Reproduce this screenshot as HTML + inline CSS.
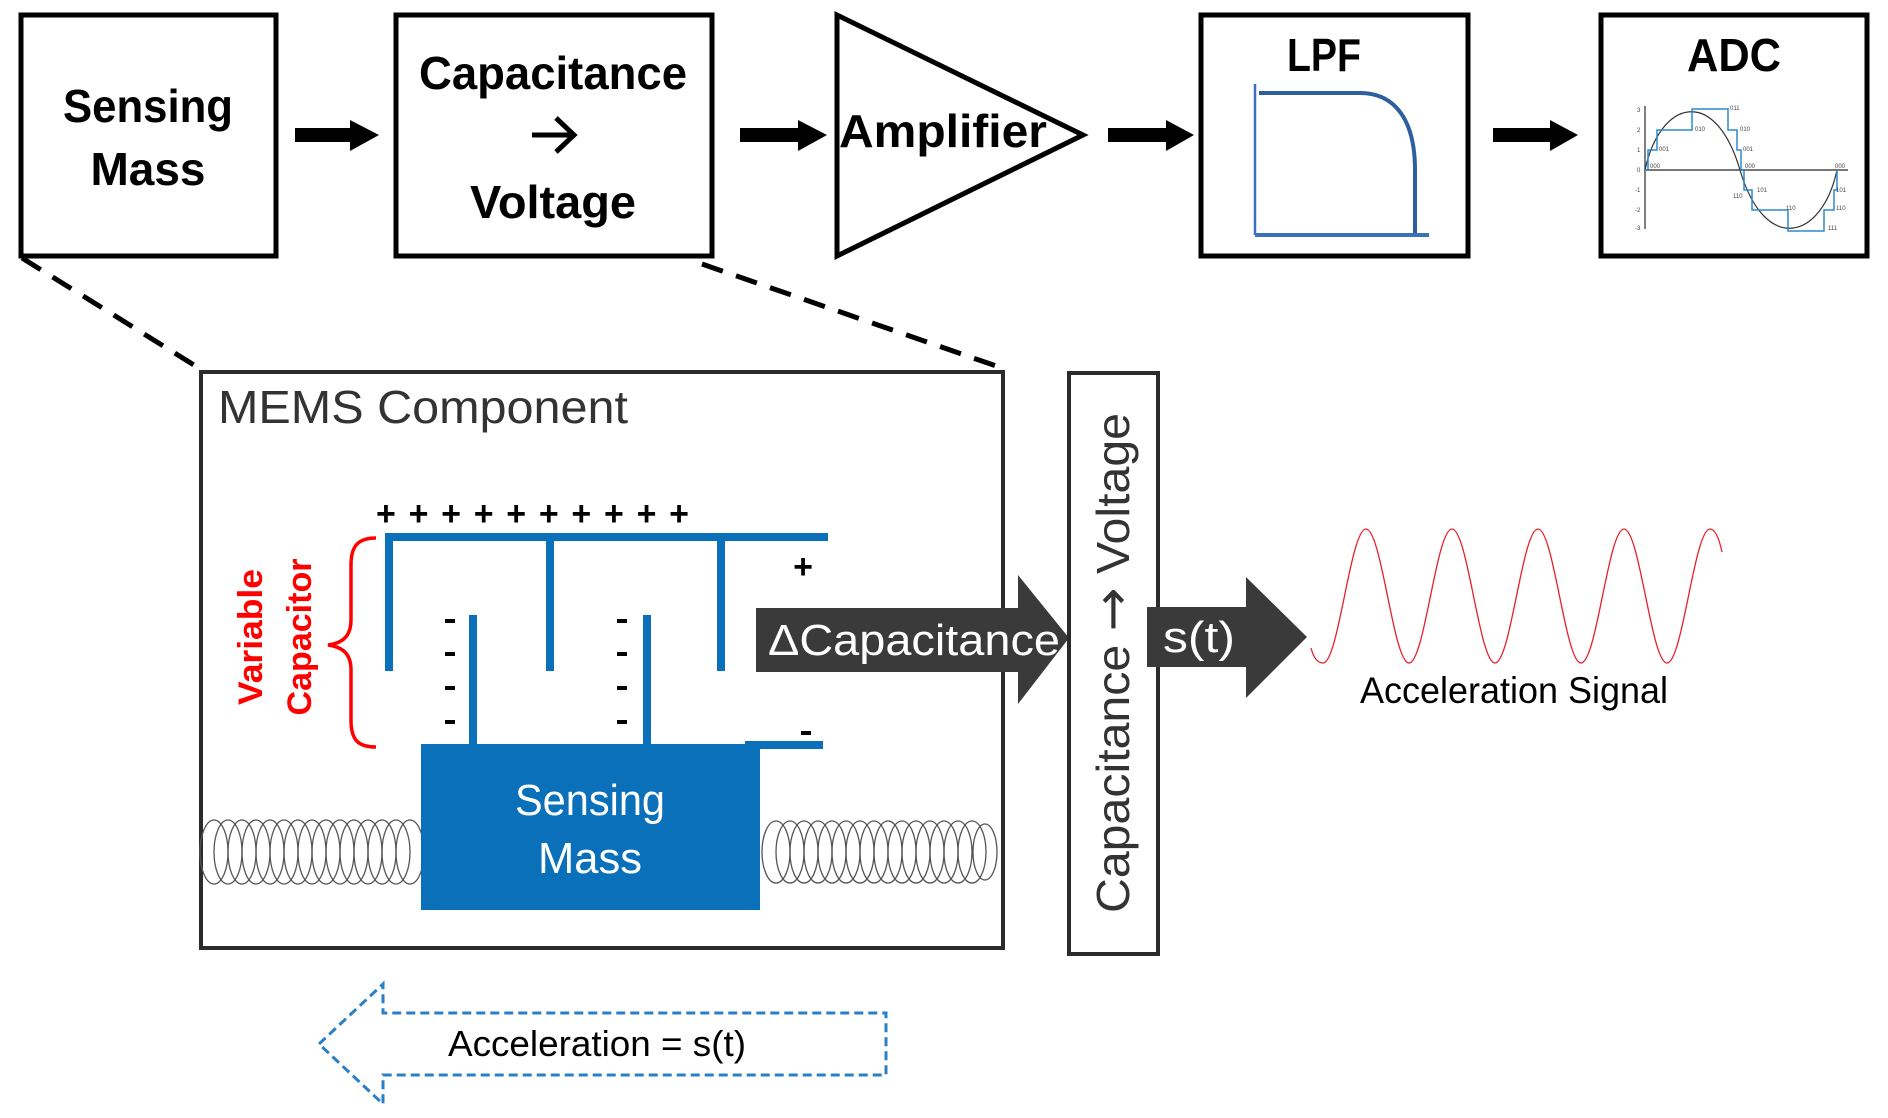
<!DOCTYPE html>
<html><head><meta charset="utf-8"><style>
html,body{margin:0;padding:0;background:#fff;width:1888px;height:1118px;overflow:hidden}
svg{display:block}
</style></head><body>
<svg width="1888" height="1118" viewBox="0 0 1888 1118" xmlns="http://www.w3.org/2000/svg" font-family="Liberation Sans, sans-serif">
<!-- top boxes -->
<g fill="#fff" stroke="#000" stroke-width="5">
<rect x="21" y="15" width="255" height="241"/>
<rect x="396" y="15" width="316" height="241"/>
<polygon points="837,15 837,256 1083,135"/>
<rect x="1201" y="15" width="267" height="241"/>
<rect x="1601" y="15" width="266" height="241"/>
</g>
<g font-weight="bold" font-size="46" text-anchor="middle" fill="#000">
<text x="148" y="122" textLength="170" lengthAdjust="spacingAndGlyphs">Sensing</text>
<text x="148" y="185" textLength="115" lengthAdjust="spacingAndGlyphs">Mass</text>
<text x="553" y="89" textLength="268" lengthAdjust="spacingAndGlyphs">Capacitance</text>
<text x="553" y="218" textLength="166" lengthAdjust="spacingAndGlyphs">Voltage</text>
<text x="943" y="147" textLength="208" lengthAdjust="spacingAndGlyphs">Amplifier</text>
<text x="1324" y="71" textLength="74" lengthAdjust="spacingAndGlyphs">LPF</text>
<text x="1734" y="71" textLength="94" lengthAdjust="spacingAndGlyphs">ADC</text>
</g>
<path d="M532,135 H572 M556,118 L574,135 L556,152" stroke="#000" stroke-width="5" fill="none"/>
<g fill="#000">
<polygon points="295,128 350,128 350,120 379,135 350,151 350,142 295,142"/>
<polygon points="740,128 798,128 798,120 827,135 798,151 798,142 740,142"/>
<polygon points="1108,128 1166,128 1166,120 1194,135 1166,151 1166,142 1108,142"/>
<polygon points="1493,128 1550,128 1550,120 1578,135 1550,151 1550,142 1493,142"/>
</g>
<!-- LPF graph -->
<path d="M1255,84 V235" stroke="#3a70bd" stroke-width="2.5" fill="none"/>
<path d="M1259,93 H1360 C1395,93 1415,120 1415,170 V235" stroke="#2d5f9e" stroke-width="4" fill="none"/>
<path d="M1255,235 H1429" stroke="#3a70bd" stroke-width="4" fill="none"/>
<!-- ADC graph -->
<g font-size="6" fill="#444">
<path d="M1645,106 V229" stroke="#555" stroke-width="1.5"/>
<path d="M1645,170 H1848" stroke="#777" stroke-width="2"/>
<text x="1637" y="112">3</text><text x="1637" y="132">2</text><text x="1637" y="152">1</text><text x="1637" y="172">0</text>
<text x="1635" y="192">-1</text><text x="1635" y="212">-2</text><text x="1635" y="230">-3</text>
<path d="M1645,170 C1660,100 1715,85 1740,170 C1765,255 1822,240 1837,170" stroke="#333" stroke-width="1.2" fill="none"/>
<path d="M1645,170 H1648 V150 H1657 V130 H1692 V109 H1728 V130 H1737 V150 H1741 V170 H1744 V190 H1752 V210 H1788 V231 H1824 V210 H1834 V190 H1837 V170" stroke="#2a8ad0" stroke-width="1.5" fill="none"/>
<text x="1659" y="151">001</text><text x="1695" y="131">010</text><text x="1730" y="110">011</text><text x="1740" y="131">010</text><text x="1743" y="151">001</text><text x="1650" y="168">000</text><text x="1745" y="168">000</text><text x="1835" y="168">000</text>
<text x="1757" y="192">101</text><text x="1733" y="198">110</text><text x="1786" y="210">110</text><text x="1828" y="230">111</text><text x="1836" y="192">101</text><text x="1836" y="210">110</text>
</g>
<g stroke="#000" stroke-width="5" stroke-dasharray="22,14" fill="none">
<path d="M22,258 L202,370"/>
<path d="M702,264 L1002,368"/>
</g>
<rect x="201" y="372" width="802" height="576" fill="none" stroke="#2b2b2b" stroke-width="4"/>
<text x="218" y="423" font-size="46" fill="#333" textLength="410" lengthAdjust="spacingAndGlyphs">MEMS Component</text>
<text x="376" y="525" font-size="34" font-weight="bold" textLength="313" lengthAdjust="spacing">+ + + + + + + + + +</text>
<!-- springs -->
<g fill="none" stroke="#555" stroke-width="1.3">
<ellipse cx="214" cy="852" rx="14" ry="32"/><ellipse cx="228" cy="852" rx="14" ry="32"/><ellipse cx="242" cy="852" rx="14" ry="32"/><ellipse cx="256" cy="852" rx="14" ry="32"/><ellipse cx="270" cy="852" rx="14" ry="32"/><ellipse cx="284" cy="852" rx="14" ry="32"/><ellipse cx="298" cy="852" rx="14" ry="32"/><ellipse cx="312" cy="852" rx="14" ry="32"/><ellipse cx="326" cy="852" rx="14" ry="32"/><ellipse cx="340" cy="852" rx="14" ry="32"/><ellipse cx="354" cy="852" rx="14" ry="32"/><ellipse cx="368" cy="852" rx="14" ry="32"/><ellipse cx="382" cy="852" rx="14" ry="32"/><ellipse cx="396" cy="852" rx="14" ry="32"/><ellipse cx="410" cy="852" rx="14" ry="32"/>
<ellipse cx="776" cy="852" rx="14" ry="31"/><ellipse cx="790" cy="852" rx="14" ry="31"/><ellipse cx="804" cy="852" rx="14" ry="31"/><ellipse cx="818" cy="852" rx="14" ry="31"/><ellipse cx="832" cy="852" rx="14" ry="31"/><ellipse cx="846" cy="852" rx="14" ry="31"/><ellipse cx="860" cy="852" rx="14" ry="31"/><ellipse cx="874" cy="852" rx="14" ry="31"/><ellipse cx="888" cy="852" rx="14" ry="31"/><ellipse cx="902" cy="852" rx="14" ry="31"/><ellipse cx="916" cy="852" rx="14" ry="31"/><ellipse cx="930" cy="852" rx="14" ry="31"/><ellipse cx="944" cy="852" rx="14" ry="31"/><ellipse cx="958" cy="852" rx="14" ry="31"/><ellipse cx="972" cy="852" rx="14" ry="31"/><ellipse cx="985" cy="852" rx="12" ry="28"/>
</g>
<g fill="#0a70ba">
<rect x="385" y="533" width="443" height="8"/>
<rect x="385" y="533" width="8" height="138"/>
<rect x="546" y="533" width="8" height="138"/>
<rect x="717" y="533" width="8" height="138"/>
<rect x="469" y="615" width="8" height="131"/>
<rect x="643" y="615" width="8" height="131"/>
<rect x="421" y="744" width="339" height="166"/>
<rect x="745" y="741" width="78" height="8"/>
</g>
<g font-size="44" fill="#fff" text-anchor="middle">
<text x="590" y="815" textLength="150" lengthAdjust="spacingAndGlyphs">Sensing</text>
<text x="590" y="873" textLength="104" lengthAdjust="spacingAndGlyphs">Mass</text>
</g>
<g fill="#000">
<rect x="445" y="619" width="10" height="4"/><rect x="445" y="652" width="10" height="4"/><rect x="445" y="686" width="10" height="4"/><rect x="445" y="720" width="10" height="4"/>
<rect x="617" y="619" width="10" height="4"/><rect x="617" y="652" width="10" height="4"/><rect x="617" y="686" width="10" height="4"/><rect x="617" y="720" width="10" height="4"/>
<rect x="801" y="731" width="10" height="4"/>
<text x="803" y="578" font-size="34" font-weight="bold" text-anchor="middle">+</text>
</g>
<path d="M376,538 C358,538 351,546 351,565 V620 C351,636 343,643 328,645 C343,647 351,654 351,670 V720 C351,740 358,747 376,747" fill="none" stroke="#f00" stroke-width="3.5"/>
<g font-size="34" font-weight="bold" fill="#f00" text-anchor="middle">
<text transform="translate(262,637) rotate(-90)" textLength="136" lengthAdjust="spacingAndGlyphs">Variable</text>
<text transform="translate(311,637) rotate(-90)" textLength="157" lengthAdjust="spacingAndGlyphs">Capacitor</text>
</g>
<polygon points="756,608 1018,608 1018,575 1069,638 1018,704 1018,672 756,672" fill="#3a3a3a"/>
<text x="768" y="655" font-size="44" fill="#fff" textLength="292" lengthAdjust="spacingAndGlyphs">ΔCapacitance</text>
<rect x="1069" y="373" width="89" height="581" fill="#fff" stroke="#2b2b2b" stroke-width="4"/>
<text transform="translate(1129,663) rotate(-90)" font-size="46" fill="#333" text-anchor="middle" textLength="500" lengthAdjust="spacingAndGlyphs">Capacitance <tspan font-family="DejaVu Sans, sans-serif" font-size="50">→</tspan> Voltage</text>
<polygon points="1147,607 1246,607 1246,577 1307,637 1246,698 1246,667 1147,667" fill="#3a3a3a"/>
<text x="1163" y="652" font-size="44" fill="#fff" textLength="72" lengthAdjust="spacingAndGlyphs">s(t)</text>
<path d="M1311,648 Q1315,663 1323,663 C1338.7,663 1350.3,529 1366,529 C1381.7,529 1393.3,663 1409,663 C1424.7,663 1436.3,529 1452,529 C1467.7,529 1479.3,663 1495,663 C1510.7,663 1522.3,529 1538,529 C1553.7,529 1565.3,663 1581,663 C1596.7,663 1608.3,529 1624,529 C1639.7,529 1651.3,663 1667,663 C1682.7,663 1694.3,529 1710,529 Q1717,529 1722,552" fill="none" stroke="#e8202a" stroke-width="1.3"/>
<text x="1360" y="703" font-size="37" fill="#000" textLength="308" lengthAdjust="spacingAndGlyphs">Acceleration Signal</text>
<polygon points="319,1044 383,984 383,1013 886,1013 886,1075 383,1075 383,1104" fill="none" stroke="#2a7fc6" stroke-width="3" stroke-dasharray="9,5"/>
<text x="597" y="1056" font-size="36" fill="#000" text-anchor="middle" textLength="298" lengthAdjust="spacingAndGlyphs">Acceleration = s(t)</text>
</svg>
</body></html>
